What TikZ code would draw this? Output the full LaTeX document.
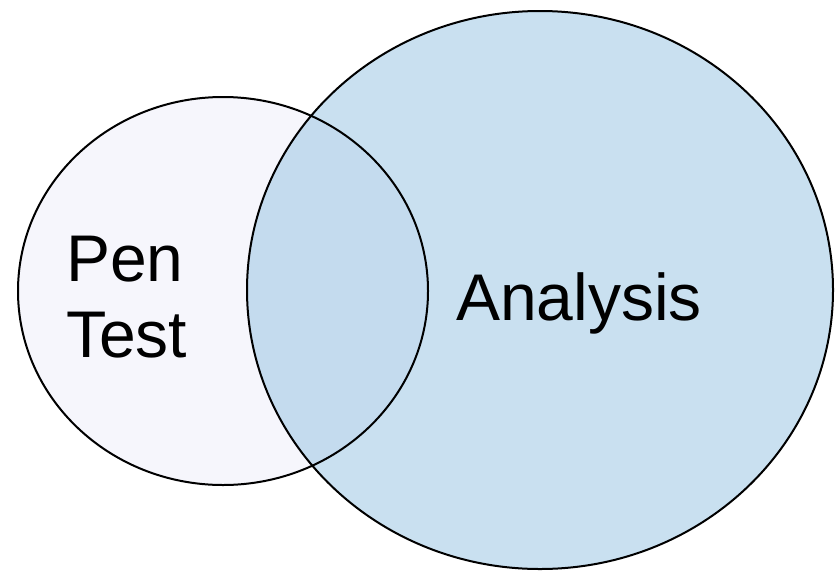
\documentclass[tikz,border=0pt]{standalone}
\usepackage{fontspec}
\setmainfont{Liberation Sans}
\definecolor{pencolor}{RGB}{246,246,252}
\definecolor{anacolor}{RGB}{147,193,225}
\tikzset{
  setcircle/.style={draw=black, line width=2pt},
  biglabel/.style={font=\fontsize{66}{76}\selectfont, inner sep=0pt, anchor=base west, text=black}
}
\begin{document}
\begin{tikzpicture}[x=1pt,y=-1pt]
\useasboundingbox (0,0) rectangle (837,571);
\fill[pencolor] (223,291) ellipse [x radius=205, y radius=194];
\fill[anacolor, fill opacity=0.5] (540,290) ellipse [x radius=293, y radius=279];
\draw[setcircle] (223,291) ellipse [x radius=205, y radius=194];
\draw[setcircle] (540,290) ellipse [x radius=293, y radius=279];
\node[biglabel] (pen) at (66,281) {Pen};
\node[biglabel] (test) at (66,357) {Test};
\node[biglabel] (analysis) at (456,320) {Analysis};
\end{tikzpicture}
\end{document}
